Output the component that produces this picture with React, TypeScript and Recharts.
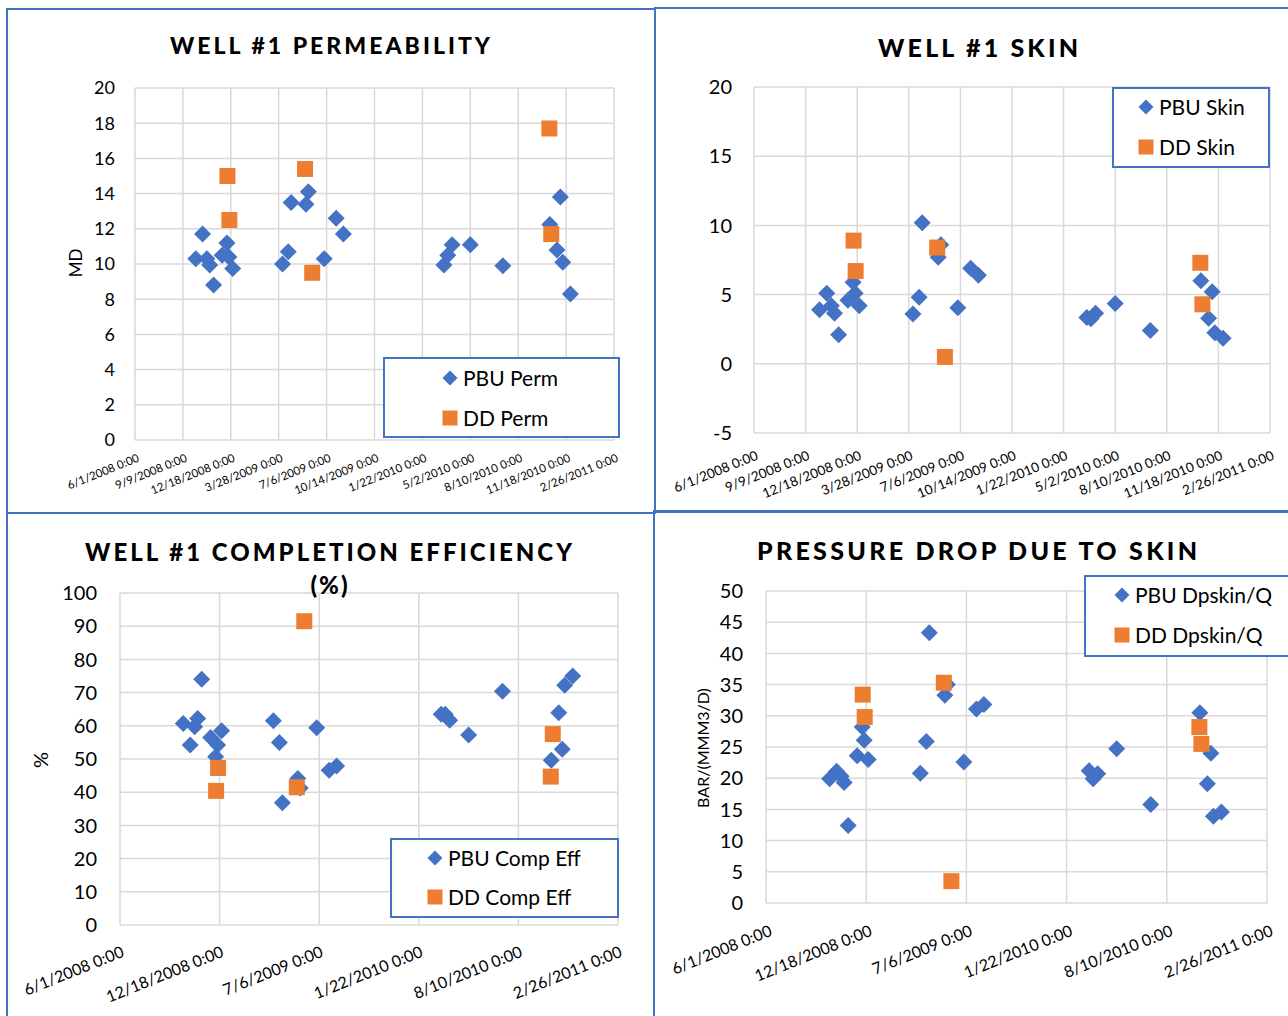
import React from 'react';
import { ScatterChart, Scatter, XAxis, YAxis, CartesianGrid, Legend } from 'recharts';

const FONT = 'Lato, "Open Sans", sans-serif';
const BLUE = '#4472C4';
const ORANGE = '#ED7D31';
const GRID = '#d9d9d9';

// ---------- tick values / labels ----------
const dateTicks100 = [39600, 39700, 39800, 39900, 40000, 40100, 40200, 40300, 40400, 40500, 40600];
const dateLabels100 = [
  '6/1/2008 0:00', '9/9/2008 0:00', '12/18/2008 0:00', '3/28/2009 0:00', '7/6/2009 0:00',
  '10/14/2009 0:00', '1/22/2010 0:00', '5/2/2010 0:00', '8/10/2010 0:00', '11/18/2010 0:00', '2/26/2011 0:00',
];
const dateTicks200 = [39600, 39800, 40000, 40200, 40400, 40600];
const dateLabels200 = ['6/1/2008 0:00', '12/18/2008 0:00', '7/6/2009 0:00', '1/22/2010 0:00', '8/10/2010 0:00', '2/26/2011 0:00'];

const permTicks = [0, 2, 4, 6, 8, 10, 12, 14, 16, 18, 20];
const skinTicks = [-5, 0, 5, 10, 15, 20];
const effTicks = [0, 10, 20, 30, 40, 50, 60, 70, 80, 90, 100];
const dpTicks = [0, 5, 10, 15, 20, 25, 30, 35, 40, 45, 50];

// ---------- data (dates as Excel serial days) ----------
const pbuDates = [
  39727, 39741, 39750, 39756, 39764, 39782, 39792, 39796, 39804,
  39908, 39920, 39926, 39957, 39962, 39995, 40020, 40035,
  40245, 40253, 40262, 40300, 40368,
  40466, 40481, 40488, 40493, 40509,
];
const ddDates = [39793, 39797, 39955, 39970, 40465, 40469];

const pbuPerm = [10.3, 11.7, 10.3, 9.95, 8.8, 10.5, 11.2, 10.4, 9.75, 10.0, 10.7, 13.5, 13.4, 14.1, 10.3, 12.6, 11.7, 9.95, 10.5, 11.1, 11.1, 9.9, 12.25, 10.8, 13.8, 10.1, 8.3];
const ddPerm = [15.0, 12.5, 15.4, 9.5, 17.7, 11.7];

const pbuSkin = [3.9, 5.1, 4.2, 3.65, 2.1, 4.6, 5.9, 5.1, 4.2, 3.6, 4.8, 10.2, 7.7, 8.6, 4.05, 6.9, 6.4, 3.35, 3.25, 3.65, 4.35, 2.4, 6.0, 3.3, 5.2, 2.25, 1.85];
const ddSkin = [8.9, 6.7, 8.4, 0.5, 7.3, 4.3];

const pbuEff = [60.7, 54.2, 59.7, 62.2, 74.0, 56.5, 50.7, 54.2, 58.5, 61.5, 55.0, 36.8, 44.1, 41.3, 59.4, 46.6, 47.9, 63.5, 63.5, 61.7, 57.2, 70.4, 49.6, 63.9, 52.9, 72.2, 75.0];
const ddEff = [40.4, 47.3, 41.5, 91.5, 44.7, 57.5];

const pbuDp = [19.9, 21.1, 20.3, 19.3, 12.4, 23.6, 28.2, 26.1, 23.0, 20.8, 25.9, 43.3, 33.3, 35.0, 22.6, 31.1, 31.8, 21.2, 19.9, 20.7, 24.7, 15.8, 30.5, 19.1, 24.0, 13.9, 14.6];
const ddDp = [33.4, 29.8, 35.3, 3.5, 28.2, 25.5];

const zip = (xs: number[], ys: number[]) => xs.map((x, i) => ({ x, y: ys[i] }));

// ---------- marker shapes ----------
const Diamond = (props: any) => {
  const { cx, cy } = props;
  const r = 8.5;
  return <polygon points={`${cx},${cy - r} ${cx + r},${cy} ${cx},${cy + r} ${cx - r},${cy}`} fill={BLUE} />;
};
const Square = (props: any) => {
  const { cx, cy } = props;
  const h = 8;
  return <rect x={cx - h} y={cy - h} width={2 * h} height={2 * h} fill={ORANGE} />;
};

type LegendCfg = { x: number; y: number; w: number; h: number; iconX: number; textX: number; row1: number; row2: number; font: number; names: [string, string] };

type PanelCfg = {
  left: number; top: number; width: number; height: number;
  margin: { top: number; right: number; bottom: number; left: number };
  yDomain: [number, number]; yTicks: number[]; yFont: number; yGap: number;
  xTicks: number[]; xLabels: string[]; xFont: number; xDx: number; xDy: number; xAngle: number;
  pbu: { x: number; y: number }[]; dd: { x: number; y: number }[];
  pbuName: string; ddName: string;
  legend: LegendCfg;
};

function ChartPanel({ c }: { c: PanelCfg }) {
  const XTick = (props: any) => {
    const { x, y, payload } = props;
    const i = c.xTicks.indexOf(payload.value);
    const tx = x + c.xDx;
    const ty = y + c.xDy;
    return (
      <text x={tx} y={ty} textAnchor="end" fontSize={c.xFont} fontFamily={FONT} fill="#000"
        transform={`rotate(${c.xAngle}, ${tx}, ${ty})`}>{c.xLabels[i]}</text>
    );
  };
  const YTick = (props: any) => {
    const { x, y, payload } = props;
    return (
      <text x={x} y={y + c.yFont * 0.36} textAnchor="end" fontSize={c.yFont} fontFamily={FONT} fill="#000">{payload.value}</text>
    );
  };
  const lg = c.legend;
  const renderLegend = () => (
    <div style={{ position: 'relative', width: lg.w, height: lg.h, boxSizing: 'border-box', border: `2px solid ${BLUE}`, background: '#fff' }}>
      <svg width={lg.w} height={lg.h} style={{ position: 'absolute', left: -2, top: -2, overflow: 'visible' }}>
        {(() => {
          const ix = lg.iconX - lg.x;
          const r1 = lg.row1 - lg.y;
          const r2 = lg.row2 - lg.y;
          const r = 7.5;
          return (
            <g>
              <polygon points={`${ix},${r1 - r} ${ix + r},${r1} ${ix},${r1 + r} ${ix - r},${r1}`} fill={BLUE} />
              <text x={lg.textX - lg.x} y={r1 + lg.font * 0.36} fontSize={lg.font} fontFamily={FONT} fill="#000">{lg.names[0]}</text>
              <rect x={ix - 7.5} y={r2 - 7.5} width={15} height={15} fill={ORANGE} />
              <text x={lg.textX - lg.x} y={r2 + lg.font * 0.36} fontSize={lg.font} fontFamily={FONT} fill="#000">{lg.names[1]}</text>
            </g>
          );
        })()}
      </svg>
    </div>
  );
  return (
    <div style={{ position: 'absolute', left: c.left, top: c.top, width: c.width, height: c.height }}>
      <ScatterChart width={c.width} height={c.height} margin={c.margin}>
        <CartesianGrid stroke={GRID} strokeWidth={1.5} />
        <XAxis type="number" dataKey="x" domain={[39600, 40600]} ticks={c.xTicks} interval={0}
          allowDataOverflow height={60} tickSize={0} tickMargin={0} tickLine={false} axisLine={false} tick={XTick} />
        <YAxis type="number" dataKey="y" domain={c.yDomain} ticks={c.yTicks} interval={0}
          allowDataOverflow width={60} tickSize={0} tickMargin={c.yGap} tickLine={false} axisLine={false} tick={YTick} />
        <Legend layout="vertical" align="center" verticalAlign="middle" content={renderLegend}
          wrapperStyle={{ position: 'absolute', left: lg.x - c.left, top: lg.y - c.top, width: lg.w, height: lg.h, margin: 0, padding: 0 }} />
        <Scatter name={c.pbuName} data={c.pbu} shape={Diamond} isAnimationActive={false} />
        <Scatter name={c.ddName} data={c.dd} shape={Square} isAnimationActive={false} />
      </ScatterChart>
    </div>
  );
}

const panels: PanelCfg[] = [
  {
    left: 6, top: 8, width: 650, height: 506,
    margin: { top: 80, right: 42, bottom: 14, left: 69 },
    yDomain: [0, 20], yTicks: permTicks, yFont: 18, yGap: 20,
    xTicks: dateTicks100, xLabels: dateLabels100, xFont: 11.5, xDx: 5, xDy: 21, xAngle: -22,
    pbu: zip(pbuDates, pbuPerm), dd: zip(ddDates, ddPerm), pbuName: 'PBU Perm', ddName: 'DD Perm',
    legend: { x: 383, y: 357, w: 237, h: 81, iconX: 450, textX: 463, row1: 378, row2: 418, font: 21, names: ['PBU Perm', 'DD Perm'] },
  },
  {
    left: 654, top: 7, width: 640, height: 506,
    margin: { top: 80, right: 24, bottom: 20, left: 40 },
    yDomain: [-5, 20], yTicks: skinTicks, yFont: 20, yGap: 22,
    xTicks: dateTicks100, xLabels: dateLabels100, xFont: 13.5, xDx: 5, xDy: 26, xAngle: -22,
    pbu: zip(pbuDates, pbuSkin), dd: zip(ddDates, ddSkin), pbuName: 'PBU Skin', ddName: 'DD Skin',
    legend: { x: 1112, y: 87, w: 158, h: 81, iconX: 1146, textX: 1159, row1: 107, row2: 147, font: 21, names: ['PBU Skin', 'DD Skin'] },
  },
  {
    left: 6, top: 512, width: 649, height: 510,
    margin: { top: 81, right: 37, bottom: 37, left: 54 },
    yDomain: [0, 100], yTicks: effTicks, yFont: 20, yGap: 23,
    xTicks: dateTicks200, xLabels: dateLabels200, xFont: 16, xDx: 5, xDy: 31, xAngle: -22,
    pbu: zip(pbuDates, pbuEff), dd: zip(ddDates, ddEff), pbuName: 'PBU Comp Eff', ddName: 'DD Comp Eff',
    legend: { x: 390, y: 838, w: 229, h: 80, iconX: 435, textX: 448, row1: 858, row2: 897, font: 21, names: ['PBU Comp Eff', 'DD Comp Eff'] },
  },
  {
    left: 653, top: 510, width: 640, height: 512,
    margin: { top: 81, right: 26, bottom: 59, left: 53 },
    yDomain: [0, 50], yTicks: dpTicks, yFont: 20, yGap: 23,
    xTicks: dateTicks200, xLabels: dateLabels200, xFont: 16, xDx: 7, xDy: 32, xAngle: -22,
    pbu: zip(pbuDates, pbuDp), dd: zip(ddDates, ddDp), pbuName: 'PBU Dpskin/Q', ddName: 'DD Dpskin/Q',
    legend: { x: 1084, y: 575, w: 212, h: 82, iconX: 1122, textX: 1135, row1: 595, row2: 635, font: 21, names: ['PBU Dpskin/Q', 'DD Dpskin/Q'] },
  },
];

const frames = [
  { left: 6, top: 8, width: 650, height: 506 },
  { left: 654, top: 7, width: 640, height: 506 },
  { left: 6, top: 512, width: 649, height: 510 },
  { left: 653, top: 510, width: 640, height: 512 },
];

const titles = [
  { text: 'WELL #1 PERMEABILITY', x: 170, y: 54, size: 23, len: 320 },
  { text: 'WELL #1 SKIN', x: 878, y: 57, size: 25, len: 200 },
  { text: 'WELL #1 COMPLETION EFFICIENCY', x: 85, y: 561, size: 24, len: 487 },
  { text: 'PRESSURE DROP DUE TO SKIN', x: 757, y: 560, size: 25, len: 440 },
];

const axisTitles = [
  { text: 'MD', x: 75, y: 263, size: 17 },
  { text: '%', x: 40, y: 760, size: 20 },
  { text: 'BAR/(MMM3/D)', x: 702, y: 748, size: 16 },
];

export default function App() {
  return (
    <div style={{ position: 'absolute', left: 0, top: 0, width: 1288, height: 1016, overflow: 'hidden', background: '#fff' }}>
      {frames.map((f, i) => (
        <div key={'f' + i} style={{ position: 'absolute', left: f.left, top: f.top, width: f.width, height: f.height, boxSizing: 'border-box', border: `2px solid ${BLUE}` }} />
      ))}
      {panels.map((p, i) => <ChartPanel key={'p' + i} c={p} />)}
      <svg width={1288} height={1016} style={{ position: 'absolute', left: 0, top: 0, pointerEvents: 'none' }}>
        {titles.map((t, i) => (
          <text key={'t' + i} x={t.x} y={t.y} fontSize={t.size} fontWeight={900} fontFamily={FONT} fill="#000"
            textLength={t.len} lengthAdjust="spacing">{t.text}</text>
        ))}
        <text x={330} y={594} fontSize={24} fontWeight={900} fontFamily={FONT} fill="#000" textAnchor="middle" letterSpacing={2}>(%)</text>
        {axisTitles.map((a, i) => (
          <text key={'a' + i} x={a.x} y={a.y} fontSize={a.size} fontFamily={FONT} fill="#000" textAnchor="middle"
            dominantBaseline="central" transform={`rotate(-90, ${a.x}, ${a.y})`}>{a.text}</text>
        ))}
      </svg>
    </div>
  );
}
